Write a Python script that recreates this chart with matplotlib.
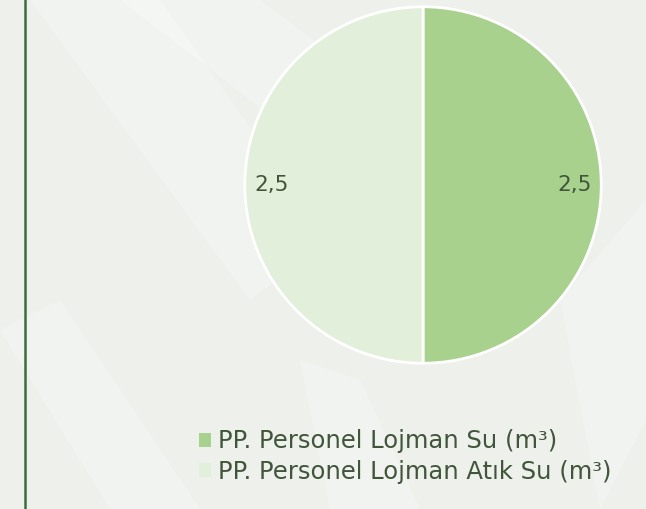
import math
import matplotlib
matplotlib.use("Agg")
import matplotlib.pyplot as plt
from matplotlib.patches import Polygon
from matplotlib.lines import Line2D

labels = ["PP. Personel Lojman Su (m³)", "PP. Personel Lojman Atık Su (m³)"]
values = [2.5, 2.5]
colors = ["#a9d18e", "#e2efda"]
text_color = "#41553a"

plt.rcParams['font.family'] = ['DejaVu Sans']

fig = plt.figure(figsize=(6.46, 5.09), dpi=100)
fig.patch.set_facecolor("#edf0eb")

# faint leaf-like background shapes
bg = fig.add_axes([0, 0, 1, 1])
bg.set_xlim(0, 646)
bg.set_ylim(509, 0)
bg.axis("off")
leaves = [
    [(30, 0), (160, 0), (330, 240), (250, 300)],
    [(120, 0), (260, 0), (420, 120), (380, 200)],
    [(0, 330), (60, 300), (200, 509), (110, 509)],
    [(560, 300), (646, 200), (646, 420), (600, 509)],
    [(300, 360), (360, 380), (420, 509), (330, 509)],
]
for pts in leaves:
    bg.add_patch(Polygon(pts, closed=True, facecolor="white", alpha=0.25, edgecolor="none"))
bg.add_line(Line2D([24.5, 24.5], [0, 509], color="#3f6b3f", lw=1.8))

ax = fig.add_axes([0.3762, 0.2829, 0.5573, 0.7073])
wedges, _ = ax.pie(values, colors=colors, startangle=90, counterclock=False,
                   wedgeprops=dict(edgecolor="white", linewidth=2))
ax.set_xlim(-1.01, 1.01)
ax.set_ylim(-1.01, 1.01)
ax.set_aspect("equal")

for w, v in zip(wedges, values):
    ang = (w.theta1 + w.theta2) / 2
    r = 0.85
    x = r * math.cos(math.radians(ang))
    y = r * math.sin(math.radians(ang))
    ax.text(x, y, f"{v:.1f}".replace(".", ","), ha="center", va="center",
            fontsize=15.5, color=text_color)

handles = [plt.Rectangle((0, 0), 1, 1, facecolor=c, edgecolor="none") for c in colors]
fig.legend(handles, labels, loc="lower left", bbox_to_anchor=(0.2935, 0.03),
           frameon=False, fontsize=17.5, labelcolor=text_color,
           handlelength=0.5, handleheight=0.5, handletextpad=0.25,
           labelspacing=0.28, borderaxespad=0.0)

fig.savefig("out.png", dpi=100, facecolor=fig.get_facecolor())
